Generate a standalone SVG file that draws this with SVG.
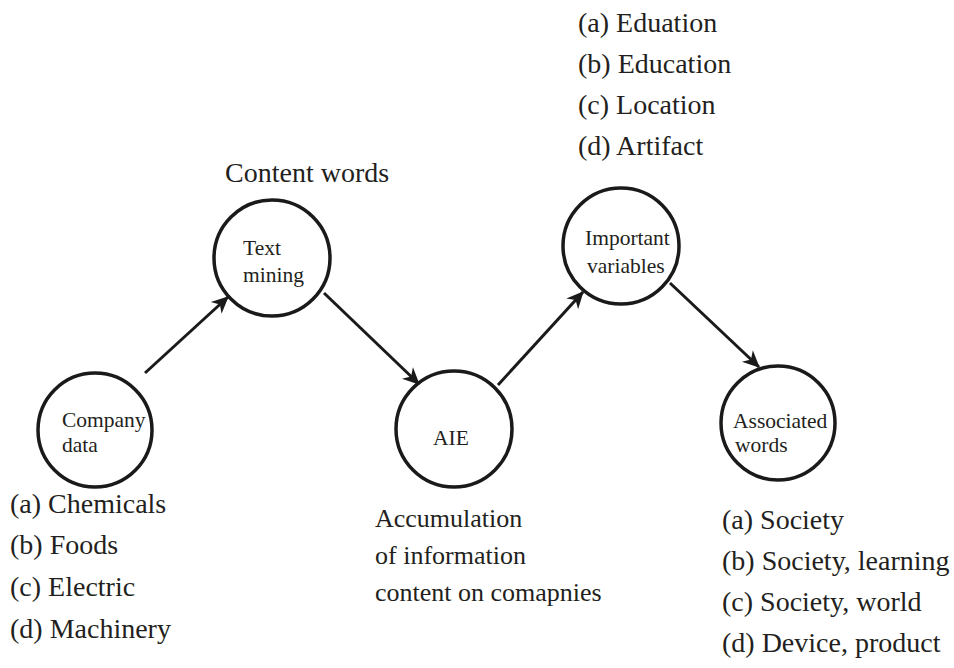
<svg xmlns="http://www.w3.org/2000/svg" width="954" height="668" viewBox="0 0 954 668">
<style>
.node circle{fill:none;stroke:#1a1a1a;stroke-width:3.5}
.nl{font-family:"Liberation Serif","Times New Roman",serif;font-size:21.5px;fill:#231f20}
.ol{font-family:"Liberation Serif","Times New Roman",serif;font-size:28px;fill:#231f20}
.al{font-family:"Liberation Serif","Times New Roman",serif;font-size:26px;fill:#231f20}
.edge{stroke:#1a1a1a;stroke-width:3;fill:none;marker-end:url(#ah)}
</style>
<defs>
<marker id="ah" markerUnits="userSpaceOnUse" viewBox="-18 -9 20 18" refX="0" refY="0" markerWidth="20" markerHeight="18" orient="auto">
<path d="M1,0 L-16,-8 L-11,0 L-16,8 Z" fill="#1a1a1a"/>
</marker>
</defs>
<rect width="954" height="668" fill="#fff"/>
<g id="connectors">
<line class="edge" x1="145" y1="373" x2="228" y2="297"/>
<line class="edge" x1="324" y1="293" x2="419" y2="384"/>
<line class="edge" x1="498" y1="385" x2="583" y2="292"/>
<line class="edge" x1="670" y1="283" x2="759" y2="367"/>
</g>
<g id="company-data" class="node">
<circle cx="95" cy="430" r="57"/>
<text class="nl" x="62" y="427">Company</text>
<text class="nl" x="62" y="452">data</text>
</g>
<g id="text-mining" class="node">
<circle cx="272" cy="258" r="58"/>
<text class="nl" x="243" y="255">Text</text>
<text class="nl" x="243" y="282">mining</text>
</g>
<g id="aie" class="node">
<circle cx="454" cy="429" r="58"/>
<text class="nl" x="433" y="445">AIE</text>
</g>
<g id="important-variables" class="node">
<circle cx="621" cy="246" r="58"/>
<text class="nl" x="585" y="245">Important</text>
<text class="nl" x="587" y="273">variables</text>
</g>
<g id="associated-words" class="node">
<circle cx="778" cy="423" r="57"/>
<text class="nl" x="733" y="428">Associated</text>
<text class="nl" x="735" y="452">words</text>
</g>
<g id="labels">
<text class="ol" x="225" y="182">Content words</text>
<text class="ol" x="578" y="32">(a) Eduation</text>
<text class="ol" x="578" y="73">(b) Education</text>
<text class="ol" x="578" y="114">(c) Location</text>
<text class="ol" x="578" y="155">(d) Artifact</text>
<text class="ol" x="10" y="513">(a) Chemicals</text>
<text class="ol" x="10" y="554">(b) Foods</text>
<text class="ol" x="10" y="596">(c) Electric</text>
<text class="ol" x="10" y="638">(d) Machinery</text>
<text class="al" x="375" y="527">Accumulation</text>
<text class="al" x="375" y="564">of information</text>
<text class="al" x="375" y="601">content on comapnies</text>
<text class="ol" x="722" y="529">(a) Society</text>
<text class="ol" x="722" y="570">(b) Society, learning</text>
<text class="ol" x="722" y="611">(c) Society, world</text>
<text class="ol" x="722" y="652">(d) Device, product</text>
</g>
</svg>
